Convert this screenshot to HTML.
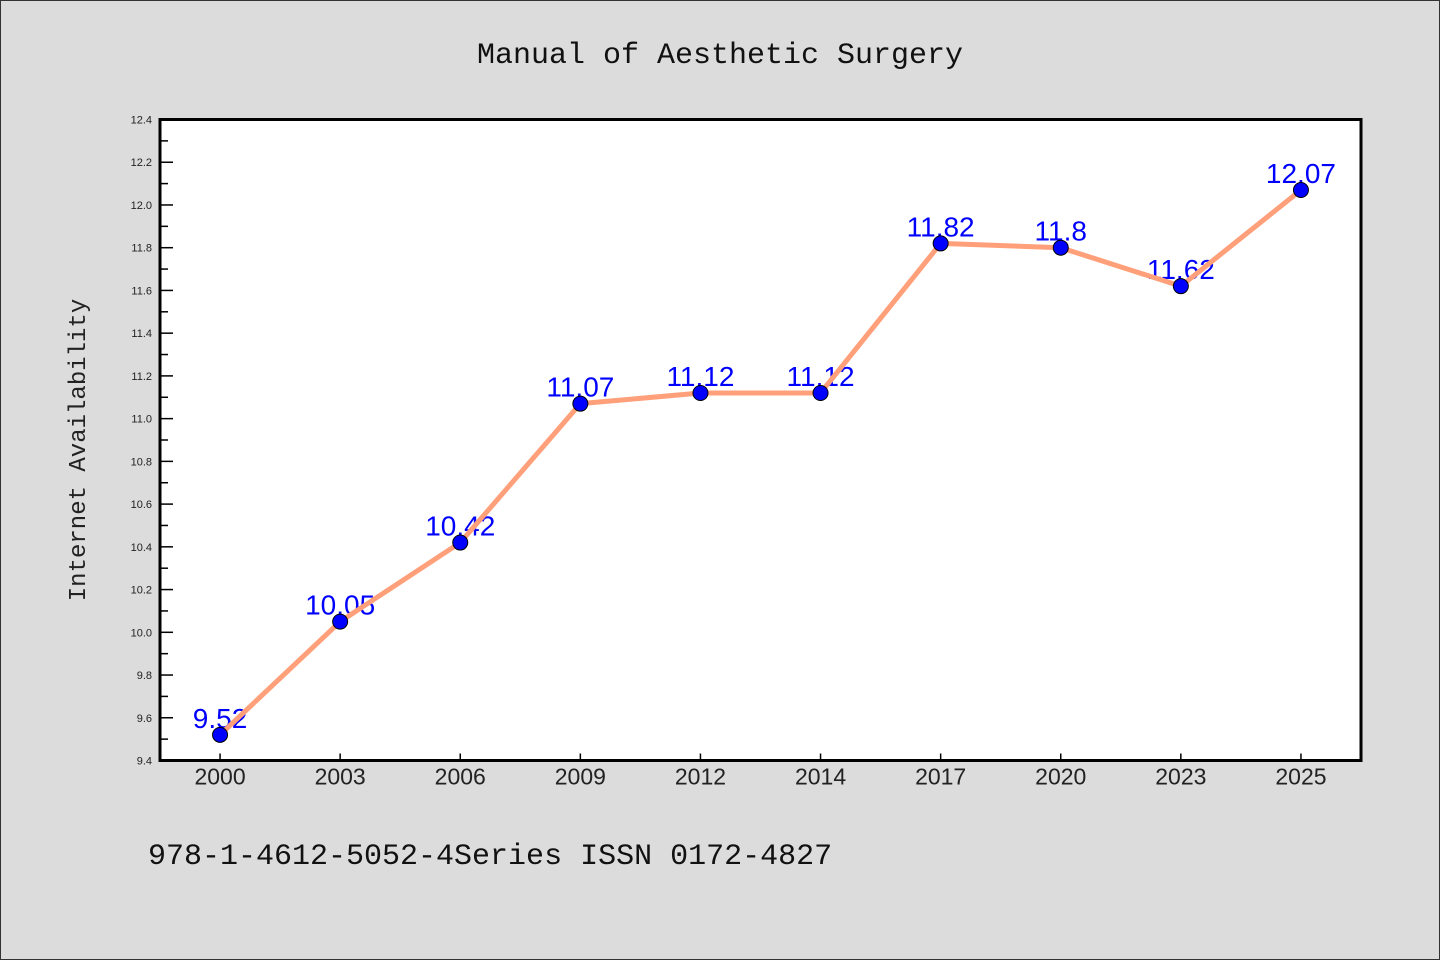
<!DOCTYPE html>
<html><head><meta charset="utf-8"><style>
body{margin:0;background:#dcdcdc;}
svg{display:block;font-family:"WenQuanYi Zen Hei","Liberation Sans",sans-serif;}
</style></head><body>
<svg id="chart" width="1440" height="960">
<rect x="0.5" y="0.5" width="1439" height="959" fill="#dcdcdc" stroke="#333"/>
<text x="720" y="63" text-anchor="middle" font-size="30" font-family="WenQuanYi Zen Hei Mono,Liberation Mono,monospace" fill="#111">Manual of Aesthetic Surgery</text>
<rect x="160" y="119.5" width="1201" height="641" fill="#fff"/>
<g id="yaxis"></g>
<g id="xaxis"></g>
<g id="labels"></g>
<g id="series"></g>
<rect x="160" y="119.5" width="1201" height="641" fill="none" stroke="#000" stroke-width="3"/>
<text transform="translate(85,450) rotate(-90)" text-anchor="middle" font-size="24" font-family="WenQuanYi Zen Hei Mono,Liberation Mono,monospace" fill="#222">Internet Availability</text>
<text x="148" y="864" font-size="30" font-family="WenQuanYi Zen Hei Mono,Liberation Mono,monospace" fill="#111">978-1-4612-5052-4Series ISSN 0172-4827</text>
</svg>
<script>
const categories=["2000","2003","2006","2009","2012","2014","2017","2020","2023","2025"];
const values=[9.52,10.05,10.42,11.07,11.12,11.12,11.82,11.8,11.62,12.07];
const labels=["9.52","10.05","10.42","11.07","11.12","11.12","11.82","11.8","11.62","12.07"];
const yTicks=["9.4","9.6","9.8","10.0","10.2","10.4","10.6","10.8","11.0","11.2","11.4","11.6","11.8","12.0","12.2","12.4"];
const NS="http://www.w3.org/2000/svg";
const yMin=9.4,yMax=12.4,plotTop=119.5,plotBot=760.5,plotLeft=160,plotRight=1361;
const y=v=>plotBot-(v-yMin)/(yMax-yMin)*(plotBot-plotTop);
const x=i=>plotLeft+(i+0.5)*(plotRight-plotLeft)/categories.length;
function mk(t,a,p){const e=document.createElementNS(NS,t);for(const k in a)e.setAttribute(k,a[k]);p.appendChild(e);return e;}
const ya=document.getElementById('yaxis');
yTicks.forEach((t,i)=>{const v=parseFloat(t),yy=y(v);
const l=mk('line',{x1:plotLeft,x2:plotLeft+13,y1:yy,y2:yy,stroke:'#000','stroke-width':1.5},ya);


const tx=mk('text',{x:plotLeft-8,y:yy+4,'text-anchor':'end','font-size':11,fill:'#222'},ya);tx.textContent=t;


if(i<yTicks.length-1){const ym=y(v+0.1);const m=mk('line',{x1:plotLeft,x2:plotLeft+8,y1:ym,y2:ym,stroke:'#000','stroke-width':1.5},ya);

}
});
const xa=document.getElementById('xaxis');
categories.forEach((c,i)=>{
const l=mk('line',{x1:x(i),x2:x(i),y1:plotBot,y2:plotBot-7,stroke:'#000','stroke-width':1.5},xa);


const t=mk('text',{x:x(i),y:plotBot+24,'text-anchor':'middle','font-size':23,fill:'#222'},xa);t.textContent=c;


});
const lg=document.getElementById('labels');
values.forEach((v,i)=>{const t=mk('text',{x:x(i),y:y(v)-7,'text-anchor':'middle','font-size':28,fill:'#0000ff'},lg);t.textContent=labels[i];

});
const s=document.getElementById('series');
const pl=mk('polyline',{points:values.map((v,i)=>x(i)+','+y(v)).join(' '),fill:'none',stroke:'#ffa07a','stroke-width':5,'stroke-linejoin':'round'},s);


values.forEach((v,i)=>{const c=mk('circle',{cx:x(i),cy:y(v),r:7.5,fill:'#0000ff',stroke:'#000','stroke-width':1},s);

});
</script>
</body></html>
